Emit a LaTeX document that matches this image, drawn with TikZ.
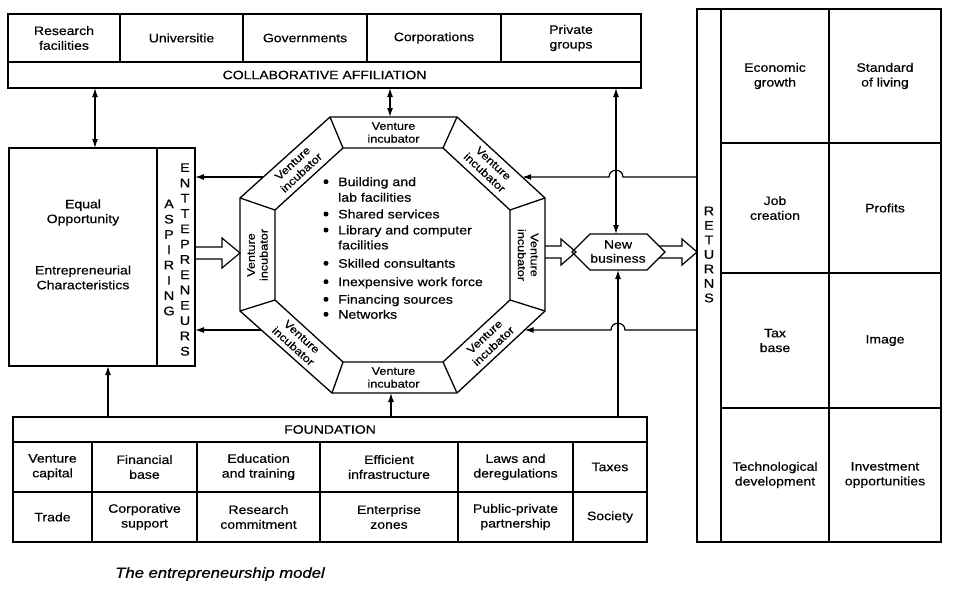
\documentclass[tikz,border=0pt]{standalone}
\usepackage{fontspec}
\setmainfont{Liberation Sans}[FakeStretch=1.15,FakeBold=0.5]
\usetikzlibrary{arrows.meta,calc}
\newcommand\myfs[2]{\fontsize{#1}{#2}\selectfont}
\begin{document}
\begin{tikzpicture}[x=1pt,y=-1pt,
  box/.style={draw, line width=1.3pt, inner sep=0pt, outer sep=0pt, align=center, font=\myfs{12.2}{14.8}},
  txt/.style={inner sep=0pt, align=center, font=\myfs{12.2}{14.8}},
  stack/.style={inner sep=0pt, align=center, font=\myfs{12.5}{15.3}},
  vi/.style={inner sep=0pt, align=center, font=\myfs{11}{12.8}},
  bul/.style={inner sep=0pt, anchor=base west, font=\myfs{12.3}{15}},
  edge/.style={line width=1.3pt, line join=miter},
  conn/.style={line width=1.2pt},
  tip/.style={-{Latex[length=9pt,width=6pt]}},
  dtip/.style={{Latex[length=9pt,width=6pt]}-{Latex[length=9pt,width=6pt]}},
  hollow/.style={line width=1.2pt, line join=miter}
]
\useasboundingbox (0,0) rectangle (954,589);

% ---------- top: collaborative affiliation ----------
\node[box, minimum width=112pt, minimum height=48pt] (c1) at (64,38) {Research\\facilities};
\node[box, minimum width=123pt, minimum height=48pt] (c2) at (181.5,38) {Universitie};
\node[box, minimum width=124pt, minimum height=48pt] (c3) at (305,38) {Governments};
\node[box, minimum width=134pt, minimum height=48pt] (c4) at (434,38) {Corporations};
\node[box, minimum width=140pt, minimum height=48pt] (c5) at (571,38) {Private\\groups};
\node[box, minimum width=633pt, minimum height=26pt] (collab) at (324.5,75) {COLLABORATIVE AFFILIATION};

% ---------- left box ----------
\node[box, minimum width=148pt, minimum height=218pt] (lmain) at (83,257) {};
\node[box, minimum width=38pt, minimum height=218pt] (asp) at (176,257) {};
\node[txt] (eo) at (83,212.5) {Equal\\Opportunity};
\node[txt] (ec) at (83,277.5) {Entrepreneurial\\Characteristics};
\node[stack] (aspl) at (169,257.5) {A\\S\\P\\I\\R\\I\\N\\G};
\node[stack] (entl) at (185,259.5) {E\\N\\T\\T\\E\\P\\R\\E\\N\\E\\U\\R\\S};

% ---------- right box: returns ----------
\node[box, minimum width=24pt, minimum height=533pt] (ret) at (709,275.5) {};
\node[stack, font=\myfs{12.5}{14.5}] (retl) at (709,254.5) {R\\E\\T\\U\\R\\N\\S};
\node[box, minimum width=108pt, minimum height=134pt] (r11) at (775,76) {Economic\\growth};
\node[box, minimum width=112pt, minimum height=134pt] (r12) at (885,76) {Standard\\of living};
\node[box, minimum width=108pt, minimum height=130pt] (r21) at (775,208) {Job\\creation};
\node[box, minimum width=112pt, minimum height=130pt] (r22) at (885,208) {Profits};
\node[box, minimum width=108pt, minimum height=135pt] (r31) at (775,340.5) {Tax\\base};
\node[box, minimum width=112pt, minimum height=135pt] (r32) at (885,340.5) {Image};
\node[box, minimum width=108pt, minimum height=134pt] (r41) at (775,475) {Technological\\development};
\node[box, minimum width=112pt, minimum height=134pt] (r42) at (885,475) {Investment\\opportunities};

% ---------- foundation ----------
\node[box, minimum width=634pt, minimum height=25pt] (fbar) at (330,429.5) {FOUNDATION};
\node[box, minimum width=79pt, minimum height=50pt] (f11) at (52.5,467) {Venture\\capital};
\node[box, minimum width=105pt, minimum height=50pt] (f12) at (144.5,467) {Financial\\base};
\node[box, minimum width=123pt, minimum height=50pt] (f13) at (258.5,467) {Education\\and training};
\node[box, minimum width=138pt, minimum height=50pt] (f14) at (389,467) {Efficient\\infrastructure};
\node[box, minimum width=115pt, minimum height=50pt] (f15) at (515.5,467) {Laws and\\deregulations};
\node[box, minimum width=74pt, minimum height=50pt] (f16) at (610,467) {Taxes};
\node[box, minimum width=79pt, minimum height=50pt] (f21) at (52.5,517) {Trade};
\node[box, minimum width=105pt, minimum height=50pt] (f22) at (144.5,517) {Corporative\\support};
\node[box, minimum width=123pt, minimum height=50pt] (f23) at (258.5,517) {Research\\commitment};
\node[box, minimum width=138pt, minimum height=50pt] (f24) at (389,517) {Enterprise\\zones};
\node[box, minimum width=115pt, minimum height=50pt] (f25) at (515.5,517) {Public-private\\partnership};
\node[box, minimum width=74pt, minimum height=50pt] (f26) at (610,517) {Society};

% ---------- octagon ----------
\coordinate (o1) at (330,117); \coordinate (o2) at (457,117);
\coordinate (o3) at (545,198); \coordinate (o4) at (545,311);
\coordinate (o5) at (457,393); \coordinate (o6) at (332,393);
\coordinate (o7) at (240,311); \coordinate (o8) at (240,198);
\coordinate (i1) at (343,148); \coordinate (i2) at (443,148);
\coordinate (i3) at (510,210); \coordinate (i4) at (510,300);
\coordinate (i5) at (443,362); \coordinate (i6) at (343,362);
\coordinate (i7) at (275,300); \coordinate (i8) at (275,210);
\draw[edge] (o1)--(o2)--(o3)--(o4)--(o5)--(o6)--(o7)--(o8)--cycle;
\draw[edge] (i1)--(i2)--(i3)--(i4)--(i5)--(i6)--(i7)--(i8)--cycle;
\foreach \k in {1,...,8} \draw[edge] (o\k)--(i\k);

\node[vi] (v1) at (393.5,132.5) {Venture\\incubator};
\node[vi, rotate=-43] (v2) at (489,168) {Venture\\incubator};
\node[vi, rotate=-90] (v3) at (528,255) {Venture\\incubator};
\node[vi, rotate=43] (v4) at (489,341.5) {Venture\\incubator};
\node[vi] (v5) at (393.5,377.5) {Venture\\incubator};
\node[vi, rotate=-42] (v6) at (297.5,341.5) {Venture\\incubator};
\node[vi, rotate=90] (v7) at (257.5,255) {Venture\\incubator};
\node[vi, rotate=43] (v8) at (297,168) {Venture\\incubator};

% bullet list
\foreach \yy in {181.7,214,230,263.3,281.7,299.3,314.3} \fill (326,\yy) circle (2.5);
\node[bul] (b1) at (338,186.1) {Building and};
\node[bul] (b2) at (338,201.7) {lab facilities};
\node[bul] (b3) at (338,218.4) {Shared services};
\node[bul] (b4) at (338,234.4) {Library and computer};
\node[bul] (b5) at (338,249.4) {facilities};
\node[bul] (b6) at (338,267.7) {Skilled consultants};
\node[bul] (b7) at (338,286.1) {Inexpensive work force};
\node[bul] (b8) at (338,303.7) {Financing sources};
\node[bul] (b9) at (338,318.7) {Networks};

% ---------- new business hexagon ----------
\coordinate (h1) at (572,252); \coordinate (h2) at (590,234);
\coordinate (h3) at (647,234); \coordinate (h4) at (665,252);
\coordinate (h5) at (647,270); \coordinate (h6) at (590,270);
\draw[edge] (h1)--(h2)--(h3)--(h4)--(h5)--(h6)--cycle;
\node[txt, font=\myfs{12.2}{14}] (nb) at (618,251.5) {New\\business};

% ---------- vertical connectors ----------
\draw[conn, dtip] (95,0 |- collab.south) -- (95,0 |- lmain.north);
\draw[conn, dtip] (390,0 |- collab.south) -- (390,0 |- o1);
\draw[conn, dtip] (616,0 |- collab.south) -- (616,0 |- h2);
\draw[conn, tip] (108,0 |- fbar.north) -- (108,0 |- lmain.south);
\draw[conn, tip] (391,0 |- fbar.north) -- (391,0 |- o6);
\draw[conn, tip] (618,0 |- fbar.north) -- (618,0 |- h6);

% ---------- horizontal feedback connectors ----------
\coordinate (eUR) at ($(o2)!0.741!(o3)$);
\coordinate (eLR) at ($(o4)!0.232!(o5)$);
\coordinate (eUL) at ($(o8)!0.259!(o1)$);
\coordinate (eLL) at ($(o7)!0.232!(o6)$);
\draw[conn, tip] (ret.west |- eUR) -- (623,177) .. controls (623,168) and (609,168) .. (609,177) -- (eUR);
\draw[conn, tip] (ret.west |- eLR) -- (625,330) .. controls (625,321) and (611,321) .. (611,330) -- (eLR);
\draw[conn, tip] (eUL) -- (asp.east |- eUL);
\draw[conn, tip] (eLL) -- (asp.east |- eLL);

% ---------- hollow arrows ----------
\draw[hollow] (asp.east |- 0,247) -- (222,247) -- (222,238) -- (o8 |- 0,253) -- (222,268) -- (222,259) -- (asp.east |- 0,259);
\draw[hollow] (o3 |- 0,246) -- (561,246) -- (561,239) -- (576,252) -- (561,265) -- (561,258) -- (o3 |- 0,258);
\draw[hollow] (659,246) -- (682,246) -- (682,239) -- (ret.west |- 0,252) -- (682,265) -- (682,258) -- (659,258);

% ---------- caption ----------
\node[txt, font=\myfs{14.5}{16}\itshape] (cap) at (220,574) {The entrepreneurship model};
\end{tikzpicture}
\end{document}
